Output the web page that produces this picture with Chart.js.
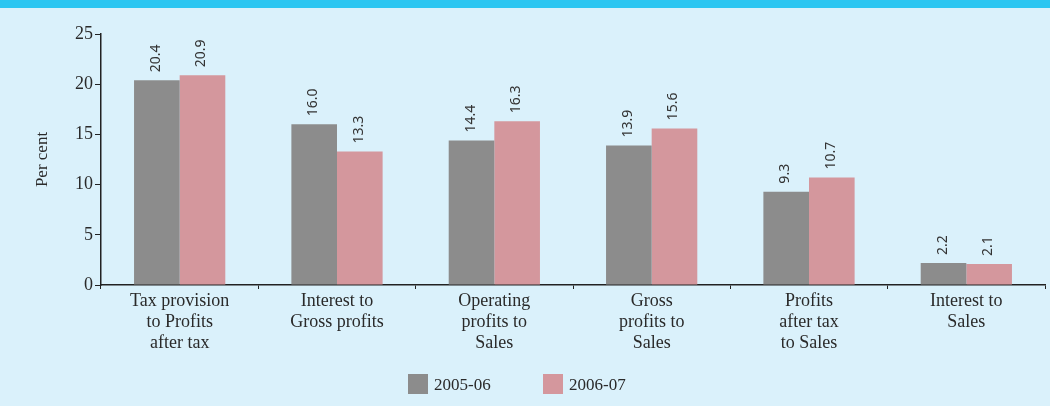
<!DOCTYPE html>
<html>
<head>
<meta charset="utf-8">
<script src="https://cdn.jsdelivr.net/npm/chart.js@4/dist/chart.umd.min.js"></script>
<style>
  html, body { margin: 0; padding: 0; }
  body { width: 1050px; height: 406px; background: #daf1fb; position: relative; overflow: hidden; }
  #band { position: absolute; left: 0; top: 0; width: 1050px; height: 8px; background: #2cc6f1; }
  #wrap { position: absolute; left: 0; top: 0; width: 1050px; height: 406px; }
  #legend { position: absolute; top: 374px; left: 0; width: 1050px; font-family: "Liberation Serif", serif;
            font-size: 17px; color: #2a2a2a; }
  .item { position: absolute; top: 0; height: 21px; line-height: 22px; }
  .box { display: inline-block; width: 20px; height: 20px; vertical-align: top; margin-right: 6px; }
</style>
</head>
<body>
<div id="band"></div>
<div id="wrap"><canvas id="myChart" width="1050" height="406"></canvas></div>
<div id="legend">
  <div class="item" style="left:408px"><span class="box" style="background:#8c8c8c"></span>2005-06</div>
  <div class="item" style="left:543px"><span class="box" style="background:#d4979d"></span>2006-07</div>
</div>
<script>
const categories = [
    ['Tax provision', 'to Profits', 'after tax'],
    ['Interest to', 'Gross profits'],
    ['Operating', 'profits to', 'Sales'],
    ['Gross', 'profits to', 'Sales'],
    ['Profits', 'after tax', 'to Sales'],
    ['Interest to', 'Sales']
];
const values0506 = [20.4, 16.0, 14.4, 13.9, 9.3, 2.2];
const values0607 = [20.9, 13.3, 16.3, 15.6, 10.7, 2.1];
const yTicks = [0, 5, 10, 15, 20, 25];

// valeurs au-dessus des barres, tournées
const barLabels = {
    id: 'barLabels',
    afterDatasetsDraw(chart) {
        const ctx = chart.ctx;
        ctx.save();
        ctx.font = '14px "Noto Sans", sans-serif';
        ctx.fillStyle = '#333';
        ctx.textAlign = 'left';
        ctx.textBaseline = 'middle';
        chart.data.datasets.forEach((ds, i) => {
            chart.getDatasetMeta(i).data.forEach((bar, j) => {
                ctx.save();
                ctx.translate(bar.x - 1, bar.y - 8);
                ctx.rotate(-Math.PI / 2);
                ctx.fillText(ds.data[j].toFixed(1), 0, 0);
                ctx.restore();
            });
        });
        ctx.restore();
    }
};

const ctx = document.getElementById('myChart').getContext('2d');
const myChart = new Chart(ctx, {
    type: 'bar',
    data: {
        labels: categories,
        datasets: [
            { label: '2005-06', data: values0506, backgroundColor: '#8c8c8c',
              categoryPercentage: 0.58, barPercentage: 1.0 },
            { label: '2006-07', data: values0607, backgroundColor: '#d4979d',
              categoryPercentage: 0.58, barPercentage: 1.0 }
        ]
    },
    options: {
        responsive: false,
        animation: false,
        layout: { padding: { top: 34, right: 5, left: 32, bottom: 0 } },
        scales: {
            x: {
                afterFit: s => { s.height = 121; },
                grid: { display: true, drawOnChartArea: false, offset: true, tickLength: 4, color: '#222' },
                border: { color: '#222', width: 1.5 },
                ticks: {
                    color: '#2a2a2a',
                    padding: 2,
                    autoSkip: false,
                    maxRotation: 0,
                    font: { family: '"Liberation Serif", serif', size: 18, lineHeight: 1.17 }
                }
            },
            y: {
                min: 0,
                max: 25,
                afterFit: s => { s.width = 69; },
                afterBuildTicks: s => { s.ticks = yTicks.map(v => ({ value: v })); },
                grid: { display: true, drawOnChartArea: false, tickLength: 6, color: '#222' },
                border: { color: '#222', width: 1.5 },
                title: {
                    display: true,
                    text: 'Per cent',
                    color: '#2a2a2a',
                    padding: { top: 0, bottom: 0 },
                    font: { family: '"Liberation Serif", serif', size: 17 }
                },
                ticks: {
                    color: '#2a2a2a',
                    padding: 2,
                    font: { family: '"Liberation Serif", serif', size: 18 }
                }
            }
        },
        plugins: {
            legend: { display: false },
            tooltip: { enabled: false }
        }
    },
    plugins: [barLabels]
});
</script>
</body>
</html>
